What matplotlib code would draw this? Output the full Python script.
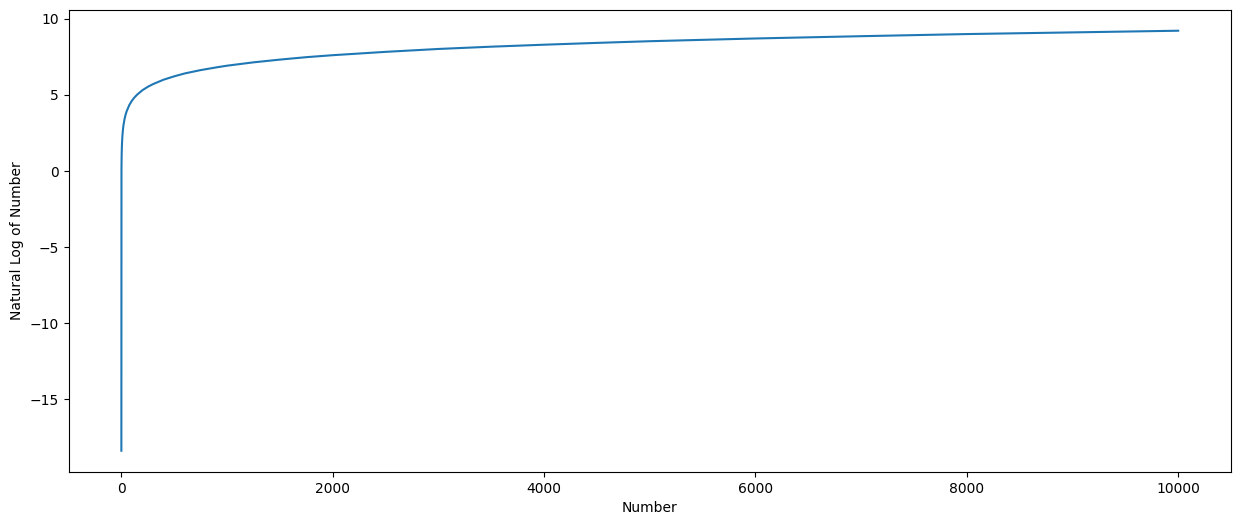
import matplotlib
matplotlib.use("Agg")
import matplotlib.pyplot as plt

# values
number = [1e-8, 1, 2, 3, 5, 8, 10, 15, 20, 30, 40, 50, 75, 100, 125, 150, 200,
          250, 300, 400, 500, 600, 750, 900, 1000, 1250, 1500, 1750, 2000,
          2500, 3000, 3500, 4000, 4500, 5000, 6000, 7000, 8000, 9000, 10000]
log_number = [-18.42, 0.0, 0.69, 1.10, 1.61, 2.08, 2.30, 2.71, 3.00, 3.40, 3.69,
              3.91, 4.32, 4.61, 4.83, 5.01, 5.30, 5.52, 5.70, 5.99, 6.21, 6.40,
              6.62, 6.80, 6.91, 7.13, 7.31, 7.47, 7.60, 7.82, 8.01, 8.16, 8.29,
              8.41, 8.52, 8.70, 8.85, 8.99, 9.10, 9.21]

fig, ax = plt.subplots(figsize=(15, 6))
ax.plot(number, log_number)
ax.set_xlabel('Number')
ax.set_ylabel('Natural Log of Number')
fig.savefig('out.png', dpi=100, bbox_inches='tight')
